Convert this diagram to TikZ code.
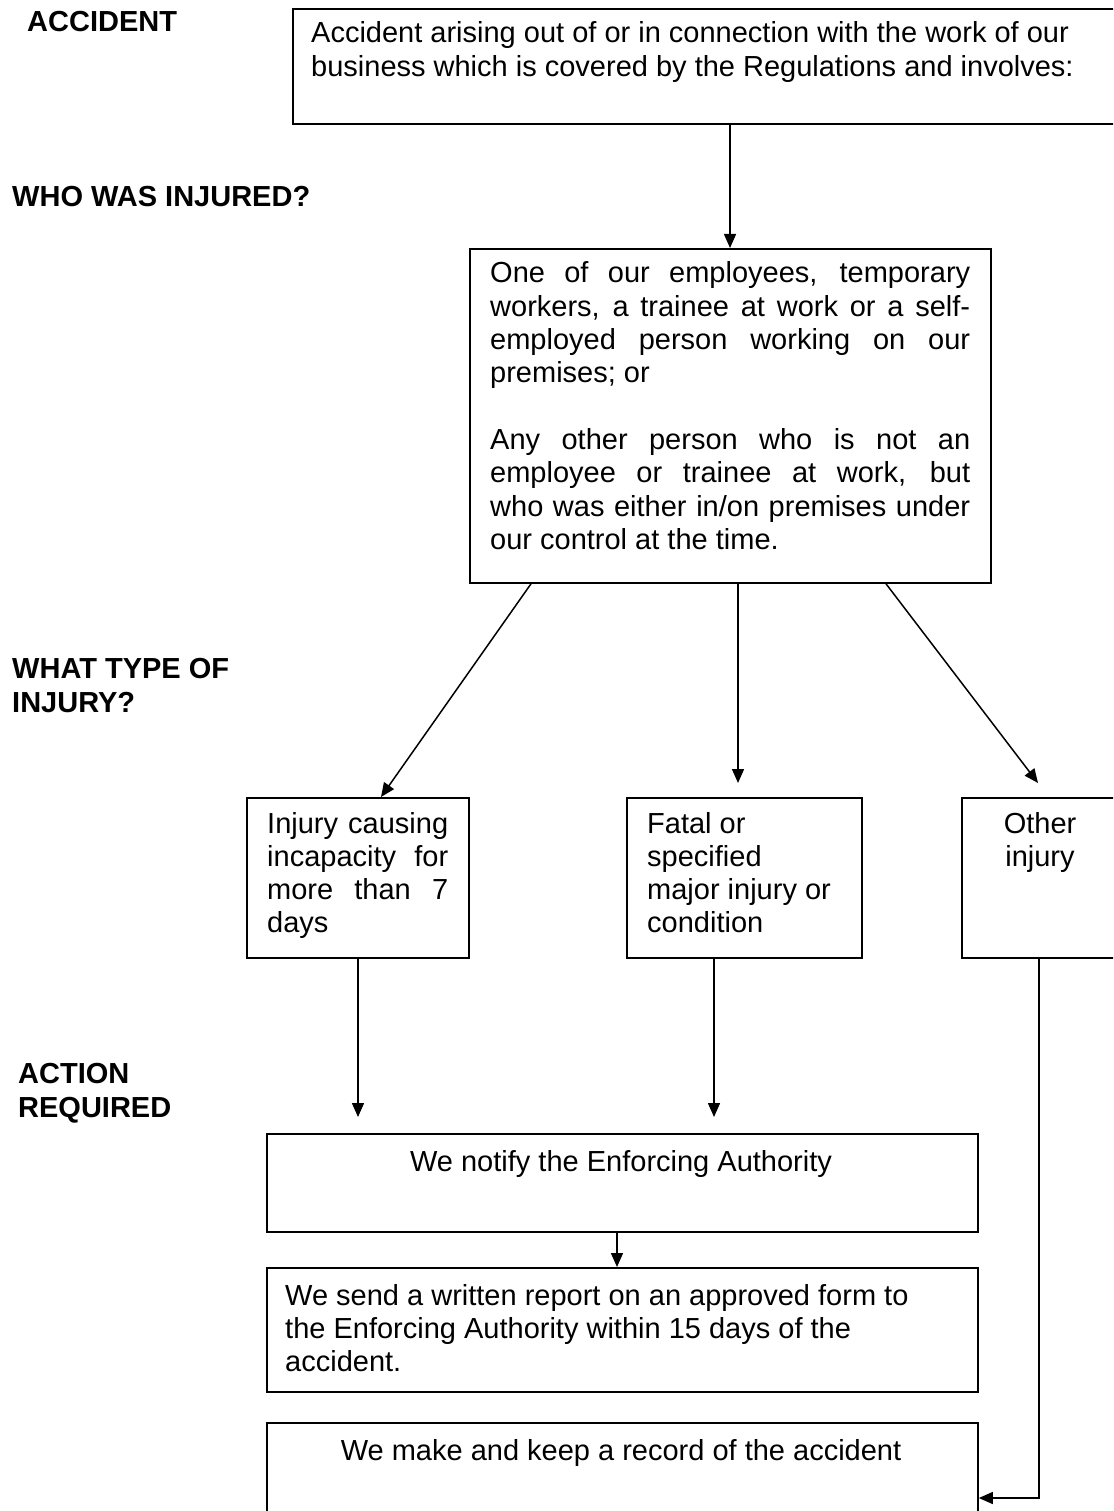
\documentclass[tikz,border=0pt]{standalone}
\usepackage{fontspec}
\setmainfont{Liberation Sans}
\usetikzlibrary{arrows.meta}
\newcommand{\js}[1]{\makebox[\linewidth][s]{#1}}
\begin{document}
\begin{tikzpicture}[x=1pt,y=-1pt,
  box/.style={draw, line width=1.8pt, inner sep=0pt, anchor=north west},
  conn/.style={line width=1.5pt, -{Triangle[length=14pt,width=12pt]}},
  txt/.style={inner sep=0pt, anchor=base west, font=\fontsize{29pt}{33.3pt}\selectfont},
  ctxt/.style={inner sep=0pt, anchor=base, font=\fontsize{29pt}{33.3pt}\selectfont},
  lbl/.style={inner sep=0pt, anchor=base west, font=\fontsize{29pt}{34pt}\selectfont\bfseries}]
\path[use as bounding box, fill=white] (0,0) rectangle (1113,1511);
\clip (0,0) rectangle (1113,1511);

% boxes
\node[box, minimum width=830pt, minimum height=115pt] (top) at (292,8) {};
\node[box, minimum width=521pt, minimum height=334pt] (mid) at (469,248) {};
\node[box, minimum width=222pt, minimum height=160pt] (b1) at (246,797) {};
\node[box, minimum width=235pt, minimum height=160pt] (b2) at (626,797) {};
\node[box, minimum width=170pt, minimum height=160pt] (b3) at (961,797) {};
\node[box, minimum width=711pt, minimum height=98pt] (notify) at (266,1133) {};
\node[box, minimum width=711pt, minimum height=124pt] (report) at (266,1267) {};
\node[box, minimum width=711pt, minimum height=120pt] (record) at (266,1422) {};

% labels
\node[lbl] (lA) at (27,32) {ACCIDENT};
\node[lbl] (lW) at (12,207) {WHO WAS INJURED?};
\node[lbl] (lT) at (12,678) {\parbox[t]{260pt}{WHAT TYPE OF\\ INJURY?}};
\node[lbl] (lR) at (18,1083) {\parbox[t]{260pt}{ACTION\\ REQUIRED}};

% texts
\node[txt] (tTop) at (311,43) {\parbox[t]{790pt}{Accident arising out of or in connection with the work of our\\ business which is covered by the Regulations and involves:}};
\node[txt] (tMid) at (490,283) {\parbox[t]{480pt}{\js{One of our employees, temporary}\\ \js{workers, a trainee at work or a self-}\\ \js{employed person working on our}\\ premises; or\\[33.3pt] \js{Any other person who is not an}\\ \js{employee or trainee at work, but}\\ \js{who was either in/on premises under}\\ our control at the time.}};
\node[txt] (tB1) at (267,833) {\parbox[t]{181pt}{\js{Injury causing}\\ \js{incapacity for}\\ \js{more than 7}\\ days}};
\node[txt] (tB2) at (647,833) {\parbox[t]{210pt}{Fatal or\\ specified\\ major injury or\\ condition}};
\node[ctxt] (tB3) at (1040,833) {\parbox[t]{140pt}{\centering Other\\ injury}};
\node[ctxt] (tN) at (621,1171) {We notify the Enforcing Authority};
\node[txt] (tRep) at (285,1305) {\parbox[t]{680pt}{We send a written report on an approved form to\\ the Enforcing Authority within 15 days of the\\ accident.}};
\node[ctxt] (tRec) at (621,1460) {We make and keep a record of the accident};

% connectors
\draw[conn] ([xshift=438pt]top.south west) -- ([xshift=261pt]mid.north west);
\draw[conn] ([xshift=62pt]mid.south west) -- ([xshift=135pt]b1.north west);
\draw[conn] ([xshift=269pt]mid.south west) -- ([xshift=112pt,yshift=14pt]b2.north west);
\draw[conn] ([xshift=417pt]mid.south west) -- ([xshift=77pt,yshift=14pt]b3.north west);
\draw[conn] ([xshift=112pt]b1.south west) -- ([xshift=92pt,yshift=16pt]notify.north west);
\draw[conn] ([xshift=88pt]b2.south west) -- ([xshift=448pt,yshift=16pt]notify.north west);
\draw[conn] ([xshift=351pt]notify.south west) -- ([xshift=351pt]report.north west);
\draw[conn] ([xshift=78pt]b3.south west) |- ([yshift=-76pt]record.north east);
\end{tikzpicture}
\end{document}
